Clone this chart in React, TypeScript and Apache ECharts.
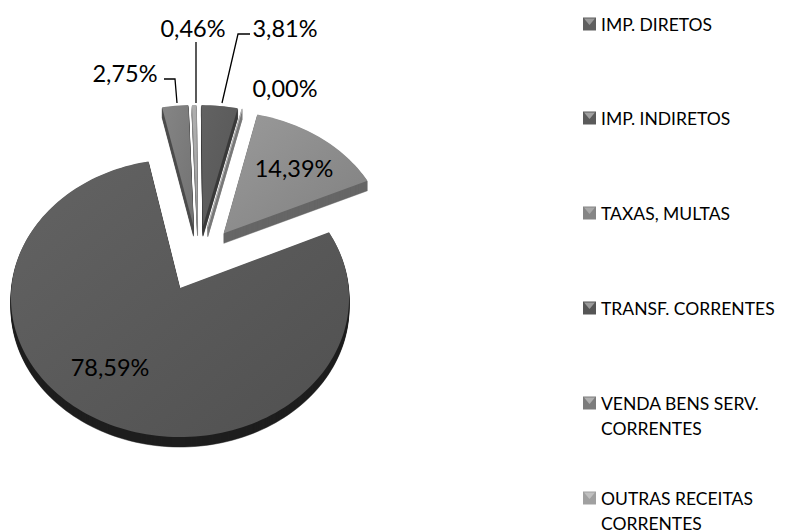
import React, { useEffect, useRef } from "react";
import * as echarts from "echarts";

const categories = ["IMP. DIRETOS", "IMP. INDIRETOS", "TAXAS, MULTAS", "TRANSF. CORRENTES", "VENDA BENS SERV.\nCORRENTES", "OUTRAS RECEITAS\nCORRENTES"];
const values = [3.81, 0.0, 14.39, 78.59, 2.75, 0.46];
const topColors = [["#626262", "#565656"], ["#b0b0b0", "#a0a0a0"], ["#9a9a9a", "#808080"], ["#636363", "#505050"], ["#858585", "#727272"], ["#b0b0b0", "#a4a4a4"]];
const sideColors = ["#3a3a3a", "#777777", "#666666", "#1e1e1e", "#4c4c4c", "#808080"];
const legendTop = ["#9a9a9a", "#a0a0a0", "#a8a8a8", "#9a9a9a", "#b0b0b0", "#c0c0c0"];
const legendBody = ["#5f5f5f", "#5a5a5a", "#858585", "#555555", "#7c7c7c", "#a0a0a0"];
const legendRows = [24, 118, 213, 308, 403, 498];
const labelPos: [number, number][] = [[285, 28], [285, 88], [294, 168], [110, 367], [125, 73], [193, 28]];
const leaders: number[][][] = [
  [[222, 103], [238, 34], [250, 34]],
  [],
  [],
  [],
  [[177, 103], [175, 79], [164, 79]],
  [[196, 103], [196, 42]],
];

const FONT = "Lato, 'Open Sans', sans-serif";
const APEX_X = 180, APEX_Y = 288, SCALE_X = 168.6, SCALE_Y = 138.3, PERSP = 0.0719, EXPLODE = 0.245, DEPTH = 10;
const total = values.reduce((a, b) => a + b, 0);
const TURN = Math.PI * 2;
const starts: number[] = [];
values.reduce((acc, v, i) => { starts[i] = acc; return acc + v; }, 0);
const midOf = (i: number) => ((starts[i] + values[i] / 2) / total) * TURN;
const MAIN = values.indexOf(Math.max(...values));

function project(u: number, v: number): [number, number] {
  const d = 1 + PERSP * v;
  return [APEX_X + (SCALE_X * u) / d, APEX_Y - (SCALE_Y * v) / d];
}

function slicePoints(i: number): [number, number][] {
  const m = midOf(i), mm = midOf(MAIN);
  const du = EXPLODE * (Math.sin(m) - Math.sin(mm));
  const dv = EXPLODE * (Math.cos(m) - Math.cos(mm));
  const a0 = (starts[i] / total) * TURN;
  const a1 = ((starts[i] + values[i]) / total) * TURN;
  const n = Math.max(2, Math.ceil((a1 - a0) / 0.03));
  const pts: [number, number][] = [project(du, dv)];
  for (let k = 0; k <= n; k++) {
    const a = a0 + ((a1 - a0) * k) / n;
    pts.push(project(du + Math.sin(a), dv + Math.cos(a)));
  }
  return pts;
}

const fmt = (v: number) => v.toFixed(2).replace(".", ",") + "%";

function renderItem(params: any, api: any) {
  const i = params.dataIndex;
  const pts = slicePoints(i);
  const children: any[] = [];
  for (let k = DEPTH; k >= 1; k--) {
    children.push({
      type: "polygon", silent: true,
      shape: { points: pts.map(([x, y]) => [x, y + k]) },
      style: { fill: sideColors[i], stroke: sideColors[i], lineWidth: 0.5 },
    });
  }
  children.push({
    type: "polygon", silent: true,
    shape: { points: pts },
    style: {
      fill: new echarts.graphic.LinearGradient(0, 0, 1, 1, [
        { offset: 0, color: topColors[i][0] },
        { offset: 1, color: topColors[i][1] },
      ]),
      stroke: values[i] === 0 ? topColors[i][0] : "none",
      lineWidth: 1,
    },
  });
  if (leaders[i].length) {
    children.push({
      type: "polyline", silent: true,
      shape: { points: leaders[i] },
      style: { stroke: "#000", lineWidth: 1.3, fill: "none" },
    });
  }
  children.push({
    type: "text", silent: true, x: labelPos[i][0], y: labelPos[i][1],
    style: { text: fmt(api.value(0)), font: `23.5px ${FONT}`, fill: "#000", align: "center", verticalAlign: "middle" },
  });
  return { type: "group", children };
}

export default function App() {
  const ref = useRef<HTMLDivElement>(null);
  useEffect(() => {
    document.body.style.margin = "0";
    const chart = echarts.init(ref.current!, null, { renderer: "svg" });
    const legend: any[] = [];
    categories.forEach((name, i) => {
      const y = legendRows[i];
      legend.push({ type: "rect", shape: { x: 583, y: y - 6.5, width: 13, height: 13 }, style: { fill: legendBody[i] } });
      legend.push({ type: "polygon", shape: { points: [[584, y - 5.5], [595, y - 5.5], [589.5, y + 1]] }, style: { fill: legendTop[i] } });
      legend.push({
        type: "text", x: 601, y: y - 12.5,
        style: { text: name, font: `17.5px ${FONT}`, lineHeight: 25, fill: "#000", align: "left", verticalAlign: "top" },
      });
    });
    chart.setOption({
      animation: false,
      backgroundColor: "#fff",
      series: [{
        type: "custom", coordinateSystem: "none", renderItem, data: values, silent: true,
        encode: { value: 0 },
      }],
      graphic: legend,
    });
    return () => chart.dispose();
  }, []);
  return <div ref={ref} style={{ position: "fixed", left: 0, top: 0, width: 785, height: 531 }} />;
}
